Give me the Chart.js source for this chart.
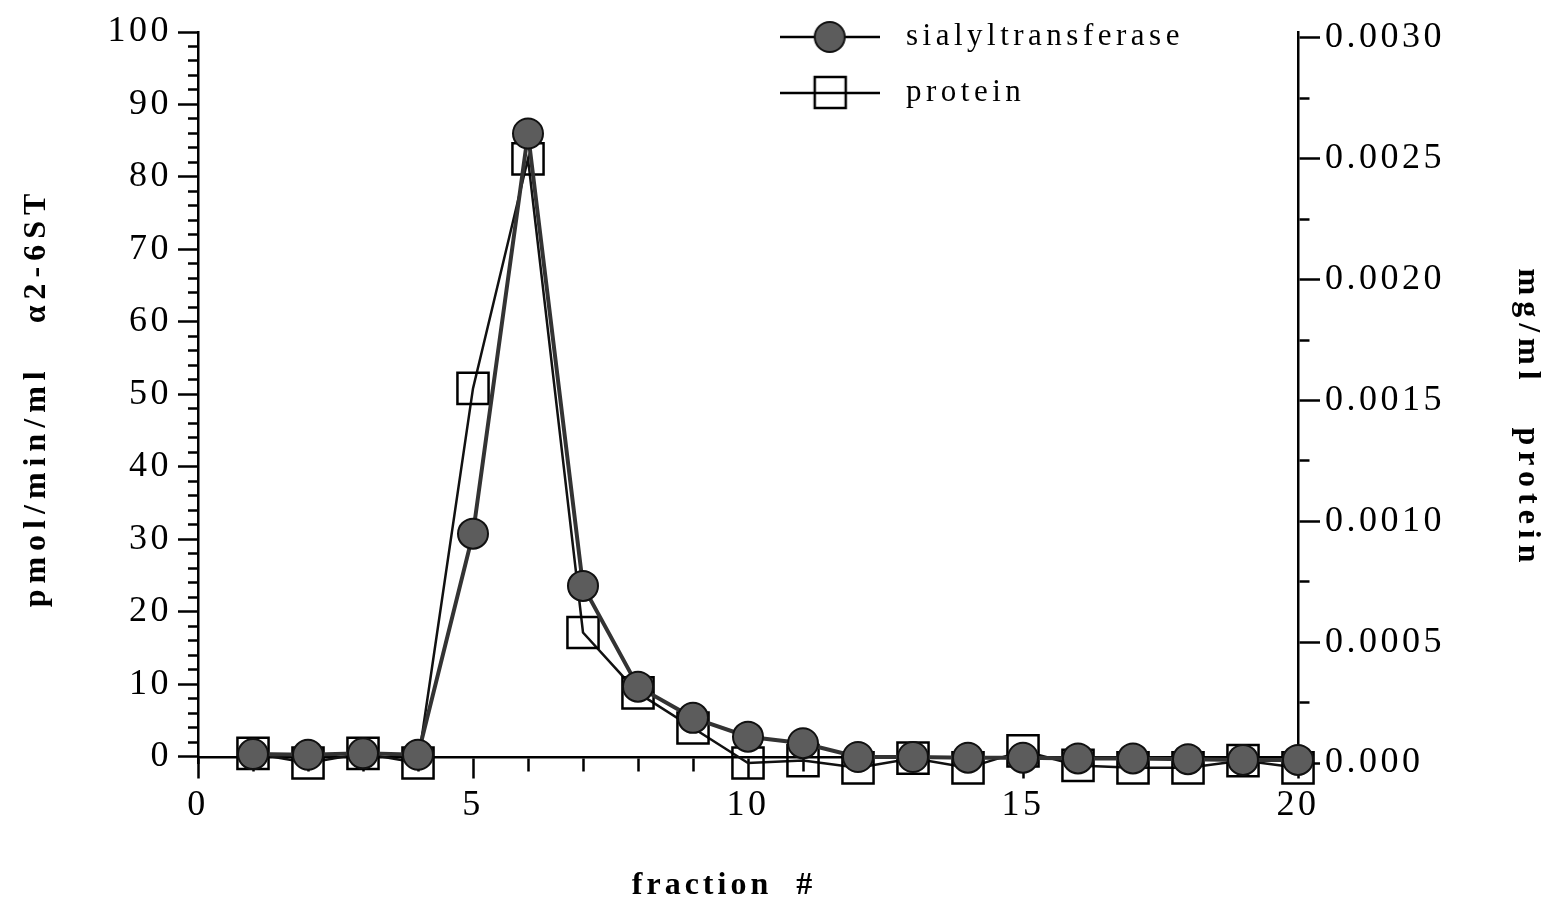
<!DOCTYPE html>
<html>
<head>
<meta charset="utf-8">
<script src="https://cdn.jsdelivr.net/npm/chart.js@4.4.1/dist/chart.umd.min.js"></script>
<style>
html, body { margin: 0; padding: 0; background: #ffffff; }
#wrap { width: 1552px; height: 915px; }
</style>
</head>
<body>
<div id="wrap"><canvas id="c" width="1552" height="915"></canvas></div>
<script>
// ---- data ----
const fractions = [1, 2, 3, 4, 5, 6, 7, 8, 9, 10, 11, 12, 13, 14, 15, 16, 17, 18, 19, 20];
const sialyltransferase = [0.4, 0.3, 0.5, 0.3, 30.8, 86.0, 23.6, 9.7, 5.4, 2.8, 1.9, 0.0, 0.0, -0.1, -0.1, -0.2, -0.2, -0.3, -0.4, -0.4];
const protein = [0.00004, 0.0, 0.00004, 0.0, 0.00155, 0.00250, 0.00054, 0.00029, 0.000145, 0.0, 0.00001, -0.00002, 0.00002, -0.00002, 0.00005, -0.00001, -0.00002, -0.00002, 0.00001, -0.00002];

const seriesNames = ['sialyltransferase', 'protein'];

// ---- ticks ----
const xTicks = [0, 1, 2, 3, 4, 5, 6, 7, 8, 9, 10, 11, 12, 13, 14, 15, 16, 17, 18, 19, 20];
const xTickLabels = ['0', '', '', '', '', '5', '', '', '', '', '10', '', '', '', '', '15', '', '', '', '', '20'];
const leftTicks = [0, 2, 4, 6, 8, 10, 12, 14, 16, 18, 20, 22, 24, 26, 28, 30, 32, 34, 36, 38, 40, 42, 44, 46, 48, 50,
                   52, 54, 56, 58, 60, 62, 64, 66, 68, 70, 72, 74, 76, 78, 80, 82, 84, 86, 88, 90, 92, 94, 96, 98, 100];
const leftMajorLabels = ['0', '10', '20', '30', '40', '50', '60', '70', '80', '90', '100'];
const rightTicks = [0, 0.00025, 0.0005, 0.00075, 0.001, 0.00125, 0.0015, 0.00175, 0.002, 0.00225, 0.0025, 0.00275, 0.003];
const rightTickLabels = ['0.000', '', '0.0005', '', '0.0010', '', '0.0015', '', '0.0020', '', '0.0025', '', '0.0030'];

const FONT = "'Liberation Serif', 'Times New Roman', serif";

// legend icons (line + marker)
function makeIcon(kind) {
  const cv = document.createElement('canvas');
  cv.width = 100; cv.height = 40;
  const g = cv.getContext('2d');
  g.strokeStyle = '#000'; g.lineWidth = 2.5;
  g.beginPath(); g.moveTo(0, 20); g.lineTo(100, 20); g.stroke();
  if (kind === 'circle') {
    g.beginPath(); g.arc(50, 20, 15, 0, Math.PI * 2);
    g.fillStyle = '#5c5c5c'; g.fill();
    g.lineWidth = 2; g.strokeStyle = '#111'; g.stroke();
  } else {
    g.lineWidth = 2.5; g.strokeStyle = '#000';
    g.strokeRect(35, 4, 31, 31);
  }
  return cv;
}
const legendIcons = [makeIcon('circle'), makeIcon('rect')];

function wrapSpacing(obj, method, spacing) {
  if (!obj || obj['_ls_' + method]) return;
  const orig = obj[method];
  obj[method] = function () {
    const c = this.ctx;
    const prev = c.letterSpacing;
    c.letterSpacing = spacing;
    const r = orig.apply(this, arguments);
    c.letterSpacing = prev;
    return r;
  };
  obj['_ls_' + method] = true;
}

const spacingPlugin = {
  id: 'spacing',
  afterLayout(chart) {
    if (chart.legend) { chart.legend.left = 744; chart.legend.top = -3.5; }
  },
  beforeDraw(chart) {
    chart.ctx.letterSpacing = '3.5px';
    wrapSpacing(chart.scales.y, 'drawTitle', '6px');
    wrapSpacing(chart.scales.y2, 'drawTitle', '6px');
    wrapSpacing(chart.scales.x, 'drawTitle', '4px');
    wrapSpacing(chart.legend, 'draw', '4.5px');
  }
};

const chart = new Chart(document.getElementById('c'), {
  type: 'line',
  data: {
    datasets: [
      {
        label: seriesNames[0],
        yAxisID: 'y',
        data: fractions.map((f, i) => ({ x: f, y: sialyltransferase[i] })),
        borderColor: '#333333',
        borderWidth: 4,
        pointStyle: 'circle',
        pointRadius: 15,
        pointHoverRadius: 15,
        pointBackgroundColor: '#5c5c5c',
        pointBorderColor: '#111111',
        pointBorderWidth: 2,
        tension: 0,
        clip: false
      },
      {
        label: seriesNames[1],
        yAxisID: 'y2',
        data: fractions.map((f, i) => ({ x: f, y: protein[i] })),
        borderColor: '#111111',
        borderWidth: 2.5,
        pointStyle: 'rect',
        pointRadius: 22,
        pointHoverRadius: 22,
        pointBackgroundColor: 'rgba(255,255,255,0)',
        pointBorderColor: '#000000',
        pointBorderWidth: 2.5,
        tension: 0,
        clip: false
      }
    ]
  },
  options: {
    responsive: false,
    animation: false,
    devicePixelRatio: 1,
    layout: { padding: { top: 32, left: 0, right: 0, bottom: 152 } },
    plugins: {
      tooltip: { enabled: false },
      legend: {
        position: 'chartArea',
        fullSize: false,
        align: 'start',
        labels: {
          usePointStyle: true,
          pointStyleWidth: 121.5,
          padding: 25,
          color: '#000',
          font: { family: FONT, size: 31 },
          generateLabels: (ch) => ch.data.datasets.map((ds, i) => ({
            text: ds.label, pointStyle: legendIcons[i], fillStyle: '#000', strokeStyle: '#000',
            lineWidth: 0, hidden: false, datasetIndex: i, fontColor: '#000'
          }))
        }
      }
    },
    scales: {
      x: {
        type: 'linear',
        min: 0, max: 20,
        position: { y: 0 },
        afterBuildTicks: s => { s.ticks = xTicks.map(v => ({ value: v })); },
        afterFit: s => { s.height = 152; },
        grid: {
          drawOnChartArea: false, drawTicks: true, tickLength: 20, tickWidth: 2.5, tickColor: '#000',
          tickBorderDash: c => (c.index % 5 === 0 ? [] : [13, 100])
        },
        border: { display: true, color: '#000', width: 2.5 },
        ticks: {
          autoSkip: false, maxRotation: 0, minRotation: 0, padding: 7, color: '#000',
          font: { family: FONT, size: 36 },
          callback: (v, i) => xTickLabels[i]
        },
        title: {
          display: true, text: 'fraction  #    ', color: '#000',
          font: { family: FONT, size: 32, weight: 'bold' },
          padding: { top: 0, bottom: 4 }
        }
      },
      y: {
        type: 'linear',
        position: 'left',
        min: -0.83, max: 100,
        afterBuildTicks: s => { s.ticks = leftTicks.map(v => ({ value: v })); },
        afterFit: s => { s.width = 198; },
        grid: {
          drawOnChartArea: false, drawTicks: true, tickLength: 20, tickWidth: 2.5, tickColor: '#000',
          tickBorderDash: c => (c.index % 5 === 0 ? [] : [0, 10, 10, 100])
        },
        border: { display: true, color: '#000', width: 2.5 },
        ticks: {
          autoSkip: false, padding: 6, color: '#000',
          font: { family: FONT, size: 36 },
          callback: (v, i) => (i % 5 === 0 ? leftMajorLabels[i / 5] : '')
        },
        title: {
          display: true, text: 'pmol/min/ml   α2-6ST', color: '#000',
          font: { family: FONT, size: 32, weight: 'bold' },
          padding: { top: 18, bottom: 0 }
        }
      },
      y2: {
        type: 'linear',
        position: 'right',
        min: 0, max: 0.0030248,
        afterBuildTicks: s => { s.ticks = rightTicks.map(v => ({ value: v })); },
        afterFit: s => { s.width = 254; },
        grid: {
          drawOnChartArea: false, drawTicks: true, tickLength: 22, tickWidth: 2.5, tickColor: '#000',
          tickBorderDash: c => (c.index % 2 === 0 ? [] : [10, 100])
        },
        border: { display: true, color: '#000', width: 2.5 },
        ticks: {
          autoSkip: false, padding: 5, color: '#000',
          font: { family: FONT, size: 36 },
          callback: (v, i) => rightTickLabels[i]
        },
        title: {
          display: true, text: '   mg/ml   protein', color: '#000',
          font: { family: FONT, size: 32, weight: 'bold' },
          padding: { top: 6, bottom: 0 }
        }
      }
    }
  },
  plugins: [spacingPlugin]
});
</script>
</body>
</html>
